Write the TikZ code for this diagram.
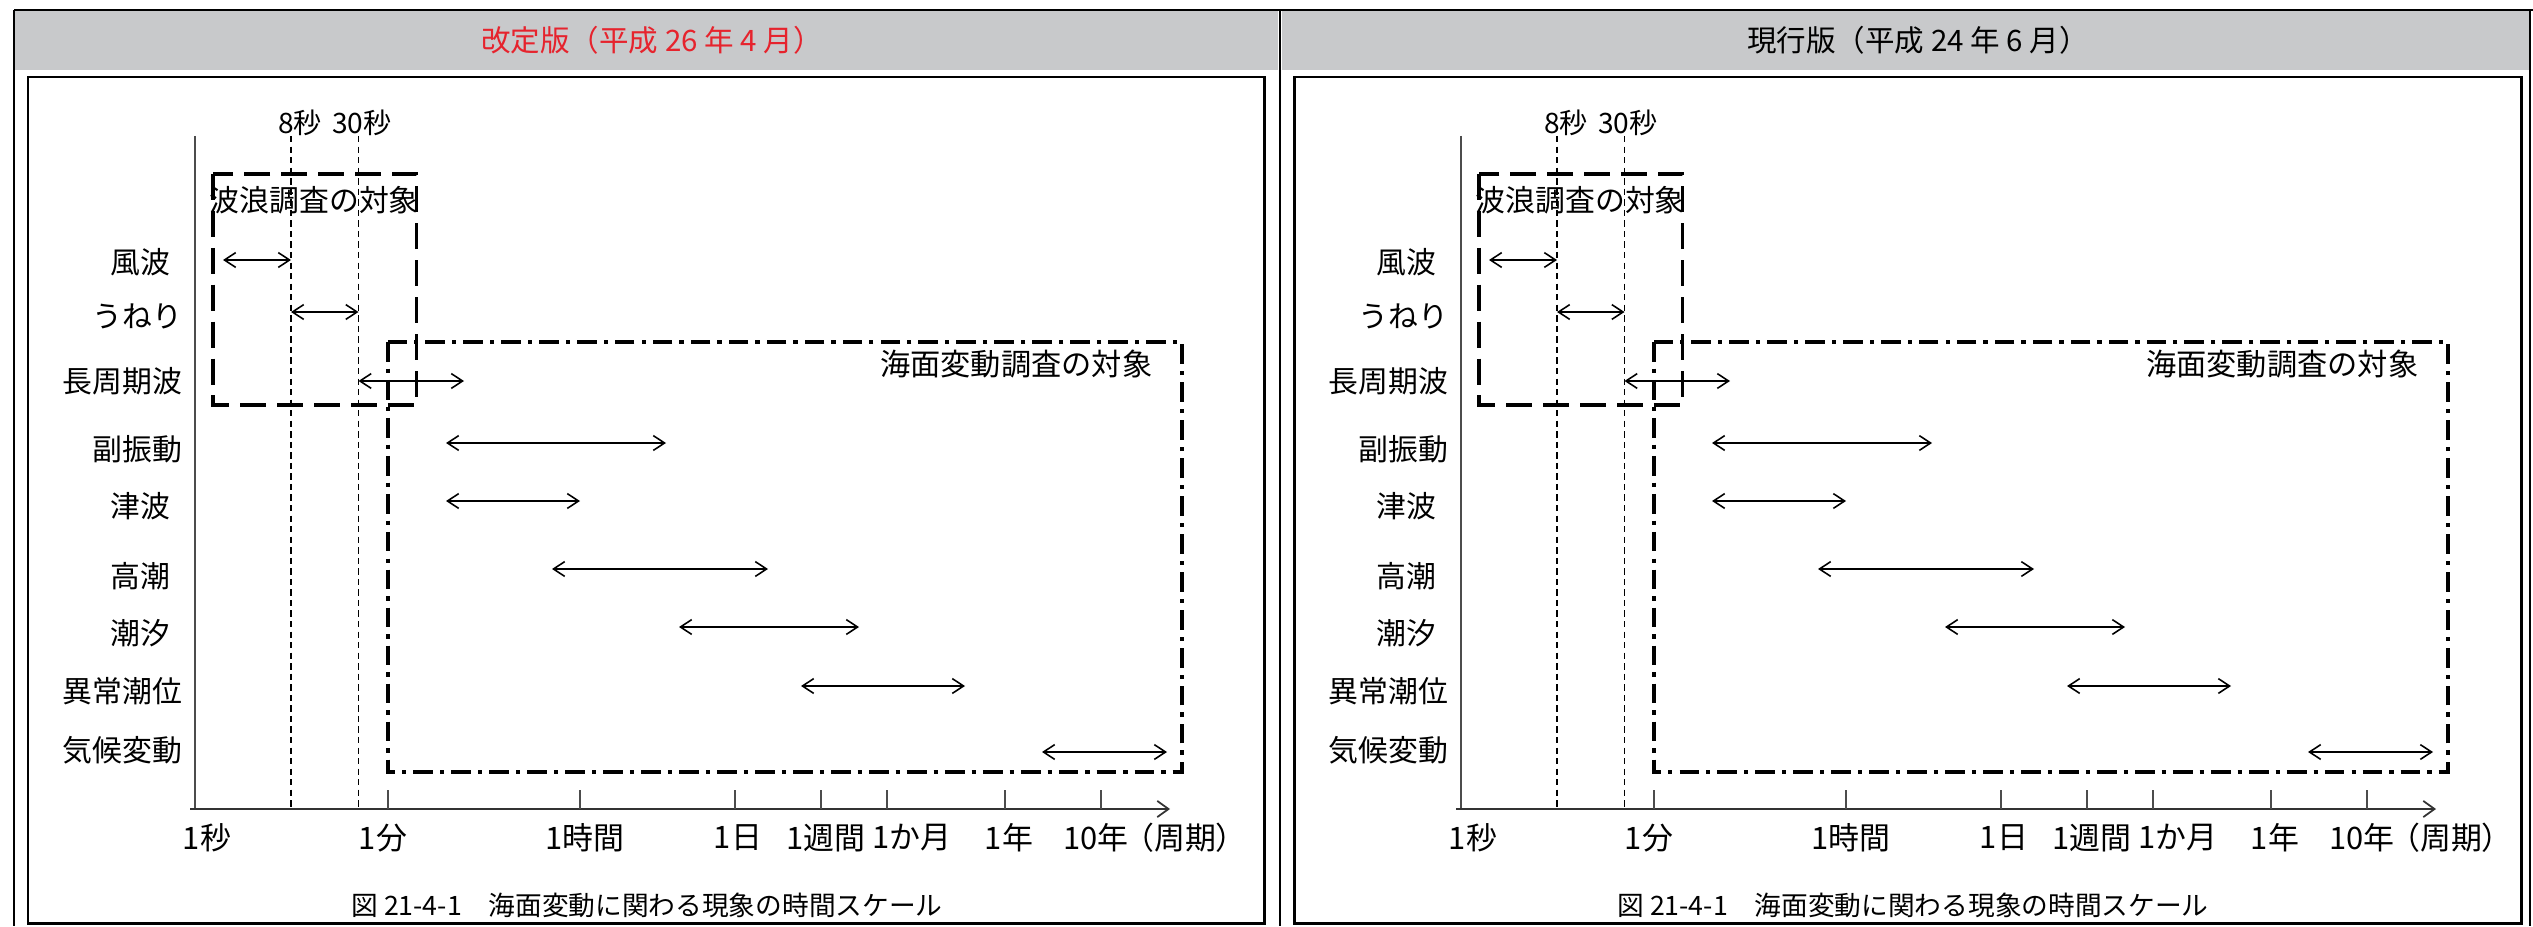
\documentclass[tikz,border=0pt]{standalone}
\usepackage{fontspec}
\setmainfont{Noto Sans CJK JP}
\usepackage{xcolor}
\usetikzlibrary{arrows.meta}
\definecolor{hdrgray}{RGB}{200,201,203}
\definecolor{hdrred}{RGB}{230,35,45}
\tikzset{
  rng/.style={{Straight Barb[length=3.2pt,width=4.2pt]}-{Straight Barb[length=3.2pt,width=4.2pt]}, line width=0.45pt},
  lbl/.style={anchor=east, inner sep=0pt, font=\fontsize{8.5}{10}\selectfont},
  tlbl/.style={inner sep=0pt, font=\fontsize{8.8}{10}\selectfont},
  wavebox/.style={line width=1.1pt, dash pattern=on 7.4pt off 3.1pt},
  seabox/.style={line width=1.1pt, dash pattern=on 5.6pt off 2pt on 1.2pt off 2pt},
  guide/.style={line width=0.35pt, dash pattern=on 1.8pt off 1.2pt},
}

\begin{document}
\begin{tikzpicture}[x=0.1mm,y=-0.1mm]
  \useasboundingbox (0,0) rectangle (2533,926);
  % table header
  \fill[hdrgray] (15,11) rectangle (1278,70); \fill[hdrgray] (1282,11) rectangle (2529,70);
  \draw[line width=0.6pt] (14,10) -- (2533,10); \draw[line width=0.6pt] (14,10) -- (14,926);
  \draw[line width=0.6pt] (1280,10) -- (1280,926); \draw[line width=0.6pt] (2530,10) -- (2530,926);
  \node[text=hdrred, font=\fontsize{8.4}{10}\selectfont] (hdrL) at (652,40) {改定版（平成 26 年 4 月）};
  \node[font=\fontsize{8.4}{10}\selectfont] (hdrR) at (1918,40) {現行版（平成 24 年 6 月）};
  \draw[line width=0.85pt] (28,77) rectangle (1264,923); \draw[line width=0.85pt] (1294,77) rectangle (2521,923);
  \foreach \dx/\p in {0/L,1266/R}{
  \begin{scope}[shift={(\dx,0)}]
    % axes
    \draw[line width=0.45pt, black!70] (195,136) -- (195,809);
    \draw[line width=0.5pt, black!80, -{Straight Barb[length=3.2pt,width=4.6pt]}] (190,809) -- (1170,809);
    \foreach \t in {388,580,735,821,887,1005,1101} \draw[line width=0.4pt, black!70] (\t,790) -- (\t,809);
    \draw[guide] (291,136) -- (291,809); \draw[guide] (358.5,136) -- (358.5,809);
    \node[tlbl, font=\fontsize{8}{10}\selectfont] (s8\p) at (300,123) {8秒};
    \node[tlbl, font=\fontsize{8}{10}\selectfont] (s30\p) at (362,123) {30秒};
    % target areas
    \draw[wavebox] (213,174) rectangle (416.5,405); \draw[seabox] (388,342) rectangle (1182,772);
    \node[anchor=west, inner sep=0pt, font=\fontsize{8.5}{10}\selectfont] (wave\p) at (209,200) {波浪調査の対象};
    \node[anchor=east, inner sep=0pt, font=\fontsize{8.6}{10}\selectfont] (sea\p) at (1153,364) {海面変動調査の対象};
    % phenomena
    \foreach \nm/\xr/\ly/\ay/\a/\b [count=\i] in {風波/171/261.7/260/223/291, うねり/183/316.7/312/291/358.5,
        長周期波/183/381.7/381/358.5/464, 副振動/183/449/443/446/666, 津波/171/506/501/446/580,
        高潮/171/576/569/552/768, 潮汐/171/633/627/679/859, 異常潮位/183/690.7/686/801/965, 気候変動/183/750/752/1042/1167}{
      \node[lbl] (ph\p\i) at (\xr,\ly) {\nm}; \draw[rng] (\a,\ay) -- (\b,\ay);
    }
    % time scale
    \foreach \tx/\tt [count=\j] in {207/1秒, 383/1分, 585/1時間, 738/1日, 826/1週間, 912/1か月, 1009/1年, 1096/10年, 1185/（周期）}
      \node[tlbl] (tm\p\j) at (\tx,838) {\tt};
    \node[font=\fontsize{7.6}{10}\selectfont] (cap\p) at (647,905) {図 21-4-1　海面変動に関わる現象の時間スケール};
  \end{scope}
  }
\end{tikzpicture}
\end{document}
